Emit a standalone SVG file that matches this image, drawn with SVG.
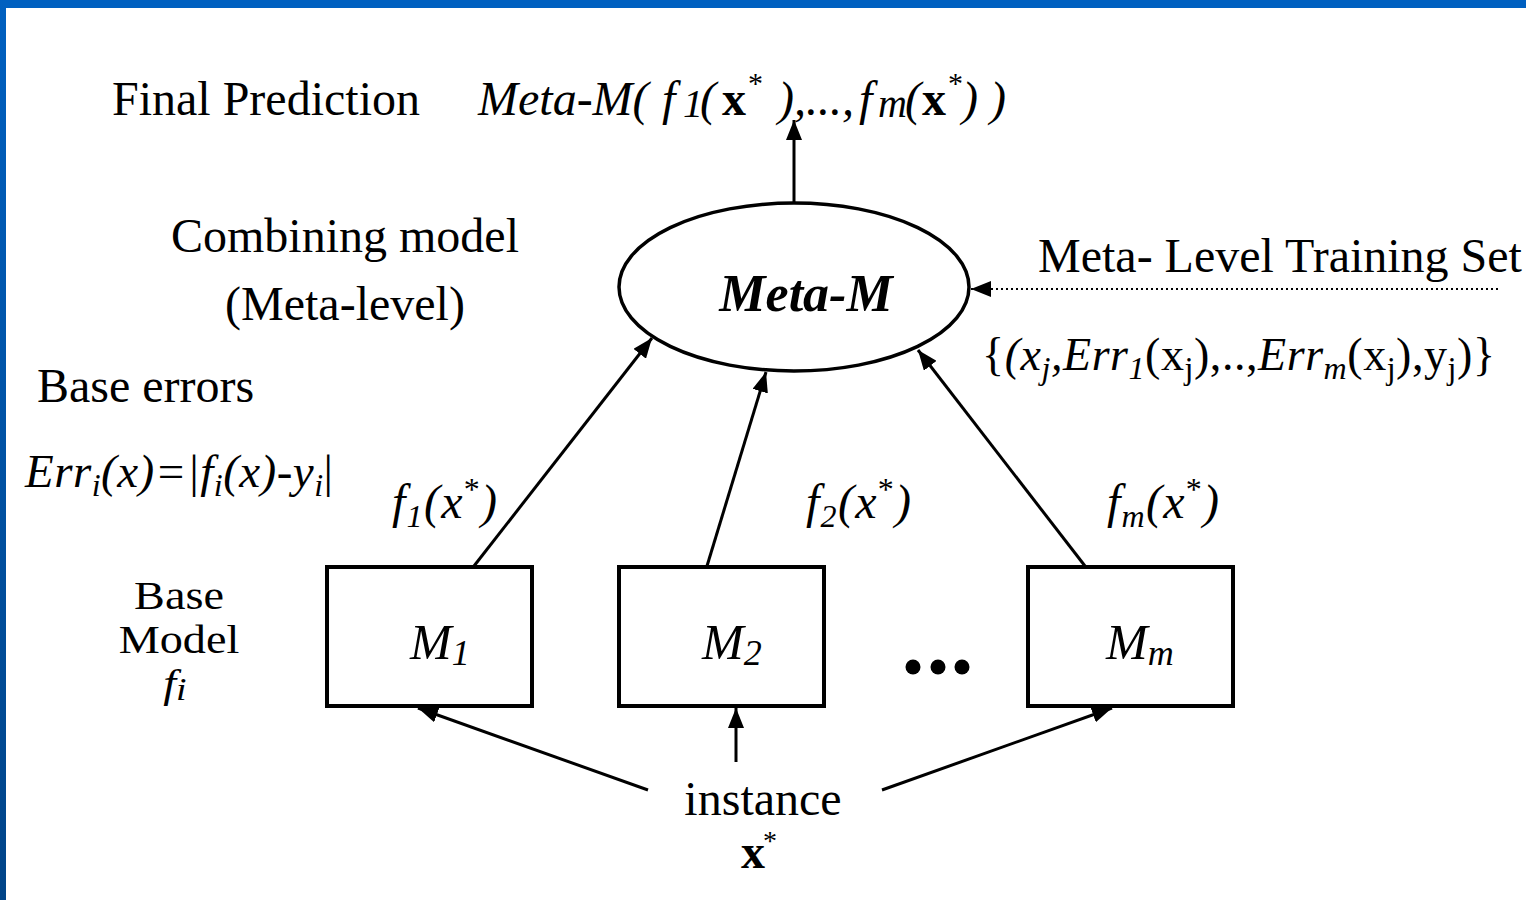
<svg xmlns="http://www.w3.org/2000/svg" width="1526" height="900" viewBox="0 0 1526 900">
<defs>
<linearGradient id="lg" x1="0" y1="0" x2="0" y2="1">
<stop offset="0" stop-color="#0060C0"/>
<stop offset="1" stop-color="#004488"/>
</linearGradient>
<marker id="ah" viewBox="0 0 20 16" refX="20" refY="8" markerWidth="20" markerHeight="16" markerUnits="userSpaceOnUse" orient="auto">
<path d="M0,0 L20,8 L0,16 z" fill="#000"/>
</marker>
<style>
text{font-family:"Liberation Serif","Times New Roman",serif;fill:#000}
.t{font-size:48px}
.m{font-size:44px}
.i{font-style:italic}
.n{font-style:normal}
.b{font-weight:bold}
.s{font-size:32px}
.box{fill:#fff;stroke:#000;stroke-width:4}
.ln{stroke:#000;stroke-width:3;fill:none}
</style>
</defs>
<rect x="0" y="0" width="1526" height="900" fill="#fff"/>
<rect x="0" y="0" width="1526" height="8" fill="#0060C0"/>
<rect x="0" y="0" width="6" height="900" fill="url(#lg)"/>

<g id="connectors">
<line class="ln" x1="794" y1="203" x2="794" y2="120" marker-end="url(#ah)"/>
<line class="ln" x1="474" y1="566" x2="652" y2="338" marker-end="url(#ah)"/>
<line class="ln" x1="707" y1="566" x2="766" y2="372" marker-end="url(#ah)"/>
<line class="ln" x1="1085" y1="566" x2="918" y2="350" marker-end="url(#ah)"/>
<line class="ln" x1="648" y1="790" x2="418" y2="708" marker-end="url(#ah)"/>
<line class="ln" x1="736" y1="762" x2="736" y2="708" marker-end="url(#ah)"/>
<line class="ln" x1="882" y1="790" x2="1112" y2="708" marker-end="url(#ah)"/>
<line x1="1498" y1="289" x2="971" y2="289" stroke="#000" stroke-width="2" stroke-dasharray="2 3" marker-end="url(#ah)"/>
</g>

<g id="meta">
<ellipse cx="794" cy="287" rx="175" ry="84" fill="#fff" stroke="#000" stroke-width="3.5"/>
<text x="806" y="311" text-anchor="middle" class="i b" style="font-size:52px">Meta-M</text>
</g>

<g id="m1">
<rect class="box" x="327" y="567" width="205" height="139"/>
<text x="410" y="659" class="i" style="font-size:50px">M<tspan dy="6" style="font-size:36px">1</tspan></text>
</g>
<g id="m2">
<rect class="box" x="619" y="567" width="205" height="139"/>
<text x="702" y="659" class="i" style="font-size:50px">M<tspan dy="6" style="font-size:36px">2</tspan></text>
</g>
<g id="mm">
<rect class="box" x="1028" y="567" width="205" height="139"/>
<text x="1106" y="659" class="i" style="font-size:50px">M<tspan dy="6" style="font-size:36px">m</tspan></text>
</g>
<g id="dots">
<circle cx="913" cy="667" r="7.5"/>
<circle cx="938" cy="667" r="7.5"/>
<circle cx="962" cy="667" r="7.5"/>
</g>

<g id="labels">
<text x="112" y="115" class="t">Final Prediction</text>
<text x="478" y="115" class="t i">Meta-M(<tspan x="662">f</tspan><tspan x="683" y="117" style="font-size:40px">1</tspan><tspan x="700" y="115">(</tspan><tspan x="722" class="b n">x</tspan><tspan x="748" y="93" class="n" style="font-size:30px">*</tspan><tspan x="778" y="115">),...,</tspan><tspan x="859">f</tspan><tspan x="878" y="117" style="font-size:40px">m</tspan><tspan x="905" y="115">(</tspan><tspan x="922" class="b n">x</tspan><tspan x="948" y="93" class="n" style="font-size:30px">*</tspan><tspan x="962" y="115">)</tspan><tspan x="990">)</tspan></text>

<text x="345" y="252" class="t" text-anchor="middle">Combining model</text>
<text x="345" y="320" class="t" text-anchor="middle">(Meta-level)</text>

<text x="1038" y="272" class="t">Meta- Level Training Set</text>
<text x="982" y="370" style="font-size:46px" textLength="513" lengthAdjust="spacing">{<tspan class="i">(x</tspan><tspan class="i s" dy="9">j</tspan><tspan class="i" dy="-9">,Err</tspan><tspan class="i s" dy="9">1</tspan><tspan dy="-9">(x</tspan><tspan class="s" dy="9">j</tspan><tspan dy="-9">),..,</tspan><tspan class="i">Err</tspan><tspan class="i s" dy="9">m</tspan><tspan dy="-9">(x</tspan><tspan class="s" dy="9">j</tspan><tspan dy="-9">),y</tspan><tspan class="s" dy="9">j</tspan><tspan dy="-9">)}</tspan></text>

<text x="37" y="402" class="t">Base errors</text>
<text x="25" y="487" class="i" style="font-size:47px" textLength="308" lengthAdjust="spacing">Err<tspan class="s" dy="9">i</tspan><tspan dy="-9">(x)=|f</tspan><tspan class="s" dy="9">i</tspan><tspan dy="-9">(x)-y</tspan><tspan class="s" dy="9">i</tspan><tspan dy="-9" class="n">|</tspan></text>

<text x="392" y="518" class="t i" textLength="105" lengthAdjust="spacing">f<tspan class="s" dy="9">1</tspan><tspan dy="-9">(x</tspan><tspan dy="-18" class="n s">*</tspan><tspan dy="18">)</tspan></text>
<text x="806" y="518" class="t i" textLength="105" lengthAdjust="spacing">f<tspan class="s" dy="9">2</tspan><tspan dy="-9">(x</tspan><tspan dy="-18" class="n s">*</tspan><tspan dy="18">)</tspan></text>
<text x="1107" y="518" class="t i" textLength="112" lengthAdjust="spacing">f<tspan class="s" dy="9">m</tspan><tspan dy="-9">(x</tspan><tspan dy="-18" class="n s">*</tspan><tspan dy="18">)</tspan></text>

<g transform="translate(179 653) scale(1.05 0.9)">
<text x="0" y="-49" class="m" text-anchor="middle">Base</text>
<text x="0" y="0" class="m" text-anchor="middle">Model</text>
<text x="-15" y="49" class="m i">f<tspan style="font-size:36px" dy="3">i</tspan></text>
</g>

<text x="763" y="815" class="t" text-anchor="middle">instance</text>
<text x="741" y="868" class="t b">x</text>
<text x="763" y="850" style="font-size:28px">*</text>
</g>
</svg>
